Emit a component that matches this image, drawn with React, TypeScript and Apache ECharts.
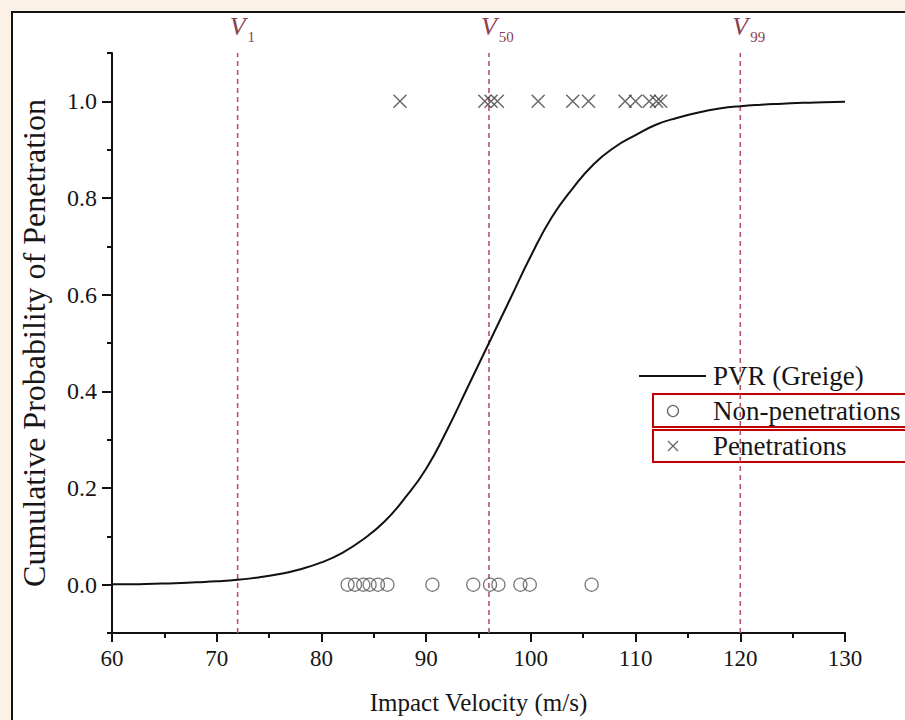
import React, { useEffect, useRef } from "react";
import * as echarts from "echarts";

// PVR curve
const velocity = [60, 62, 64, 66, 68, 70, 72, 74, 76, 78, 80, 82, 84, 86, 88, 90, 92, 94, 96, 98, 100, 102, 104, 106, 108, 110, 112, 114, 116, 118, 120, 122, 124, 126, 128, 130];
const pvr = [0.001, 0.001, 0.002, 0.003, 0.005, 0.007, 0.01, 0.015, 0.022, 0.032, 0.046, 0.066, 0.094, 0.13, 0.18, 0.24, 0.32, 0.41, 0.5, 0.59, 0.68, 0.76, 0.82, 0.87, 0.905, 0.93, 0.952, 0.966, 0.977, 0.985, 0.99, 0.993, 0.995, 0.997, 0.998, 0.999];

// Test shots
const nonPenVel = [82.5, 83.2, 84.0, 84.6, 85.4, 86.3, 90.6, 94.5, 96.1, 96.9, 99.0, 99.9, 105.8];
const penVel = [87.5, 95.6, 96.2, 96.8, 100.7, 104.0, 105.5, 109.0, 110.0, 111.3, 112.0, 112.4];

// Critical velocities
const critVel = [72, 96, 120];
const critSub = ["1", "50", "99"];

const yMajorTicks = [0, 0.2, 0.4, 0.6, 0.8, 1.0];

const FONT = "Liberation Serif";
const INK = "#161616";

export default function App() {
  const ref = useRef<HTMLDivElement>(null);
  useEffect(() => {
    if (!ref.current) return;
    const chart = echarts.init(ref.current, null, { renderer: "svg" });
    const dashSeries = critVel.map((v) => ({
      type: "line",
      data: [[v, -0.1], [v, 1.1]],
      symbol: "none",
      silent: true,
      z: 1,
      lineStyle: { color: "#b85560", width: 1.6, type: [5, 4] },
    }));
    const grid = { left: 112, right: 60, top: 53, bottom: 83 };
    const xFor = (v: number) => grid.left + ((v - 60) / 70) * (905 - grid.left - grid.right);
    const vLabels = critVel.map((v, i) => ({
      type: "text",
      x: xFor(v) - 8,
      y: 9,
      style: {
        text: "{v|V}{s|" + critSub[i] + "}",
        rich: {
          v: { fontFamily: FONT, fontStyle: "italic", fontSize: 26, fill: "#8a4152" },
          s: { fontFamily: FONT, fontSize: 15, fill: "#8a4152", padding: [20, 0, 0, 2] },
        },
      },
    }));
    chart.setOption({
      animation: false,
      backgroundColor: "#fbf1e6",
      grid,
      xAxis: {
        type: "value",
        min: 60,
        max: 130,
        interval: 10,
        splitLine: { show: false },
        axisLine: { onZero: false, lineStyle: { color: "#111", width: 2 } },
        axisTick: { length: 9, lineStyle: { color: "#111", width: 2 } },
        minorTick: { show: true, splitNumber: 2, length: 5, lineStyle: { color: "#111", width: 2 } },
        axisLabel: { fontFamily: FONT, fontSize: 23, color: INK, margin: 14 },
        name: "Impact Velocity (m/s)",
        nameLocation: "middle",
        nameGap: 57,
        nameTextStyle: { fontFamily: FONT, fontSize: 25, color: INK },
      },
      yAxis: [
        {
          type: "value",
          min: -0.1,
          max: 1.1,
          interval: 0.1,
          splitLine: { show: false },
          axisLine: { show: true, onZero: false, lineStyle: { color: "#111", width: 2 } },
          axisTick: { show: true, length: 10, customValues: yMajorTicks, lineStyle: { color: "#111", width: 2 } },
          axisLabel: {
            customValues: yMajorTicks,
            fontFamily: FONT,
            fontSize: 24,
            color: INK,
            margin: 15,
            formatter: (v: number) => v.toFixed(1),
          },
          name: "Cumulative Probability of Penetration",
          nameLocation: "middle",
          nameGap: 62,
          nameTextStyle: { fontFamily: FONT, fontSize: 32, color: INK },
        },
        {
          type: "value",
          min: -0.1,
          max: 1.1,
          interval: 0.1,
          position: "left",
          splitLine: { show: false },
          axisLine: { show: false },
          axisTick: { show: true, length: 5, lineStyle: { color: "#111", width: 2 } },
          axisLabel: { show: false },
        },
      ],
      series: [
        ...dashSeries,
        {
          name: "PVR (Greige)",
          type: "line",
          data: velocity.map((v, i) => [v, pvr[i]]),
          smooth: true,
          symbol: "none",
          z: 3,
          lineStyle: { color: "#111", width: 2 },
        },
        {
          name: "Non-penetrations",
          type: "scatter",
          data: nonPenVel.map((v) => [v, 0]),
          symbol: "circle",
          symbolSize: 13,
          z: 4,
          itemStyle: { color: "rgba(0,0,0,0)", borderColor: "#555", borderWidth: 1.3 },
        },
        {
          name: "Penetrations",
          type: "scatter",
          data: penVel.map((v) => [v, 1]),
          symbol: "path://M0 0L10 10M10 0L0 10",
          symbolSize: 13,
          z: 4,
          itemStyle: { color: "rgba(0,0,0,0)", borderColor: "#444", borderWidth: 1.5 },
        },
      ],
      graphic: [
        {
          type: "rect",
          shape: { x: 12, y: 12, width: 1000, height: 1000 },
          style: { fill: "#ffffff", stroke: "#111", lineWidth: 2 },
          z: -10,
          silent: true,
        },
        ...vLabels,
        { type: "line", shape: { x1: 639, y1: 376, x2: 706, y2: 376 }, style: { stroke: "#111", lineWidth: 1.8 } },
        { type: "text", x: 713, y: 376, style: { text: "PVR (Greige)", fontFamily: FONT, fontSize: 27, fill: INK, verticalAlign: "middle" } },
        { type: "circle", shape: { cx: 673, cy: 411, r: 5.5 }, style: { fill: "none", stroke: "#666", lineWidth: 1.3 } },
        { type: "text", x: 713, y: 411, style: { text: "Non-penetrations", fontFamily: FONT, fontSize: 27, fill: INK, verticalAlign: "middle" } },
        { type: "line", shape: { x1: 668, y1: 441, x2: 678, y2: 451 }, style: { stroke: "#666", lineWidth: 1.3 } },
        { type: "line", shape: { x1: 678, y1: 441, x2: 668, y2: 451 }, style: { stroke: "#666", lineWidth: 1.3 } },
        { type: "text", x: 713, y: 446, style: { text: "Penetrations", fontFamily: FONT, fontSize: 27, fill: INK, verticalAlign: "middle" } },
        { type: "rect", shape: { x: 653, y: 394, width: 270, height: 33 }, style: { fill: "none", stroke: "#c00000", lineWidth: 2 } },
        { type: "rect", shape: { x: 653, y: 430, width: 270, height: 32 }, style: { fill: "none", stroke: "#c00000", lineWidth: 2 } },
      ],
    });
    return () => chart.dispose();
  }, []);
  return <div ref={ref} style={{ position: "fixed", left: 0, top: 0, width: 905, height: 720 }} />;
}
